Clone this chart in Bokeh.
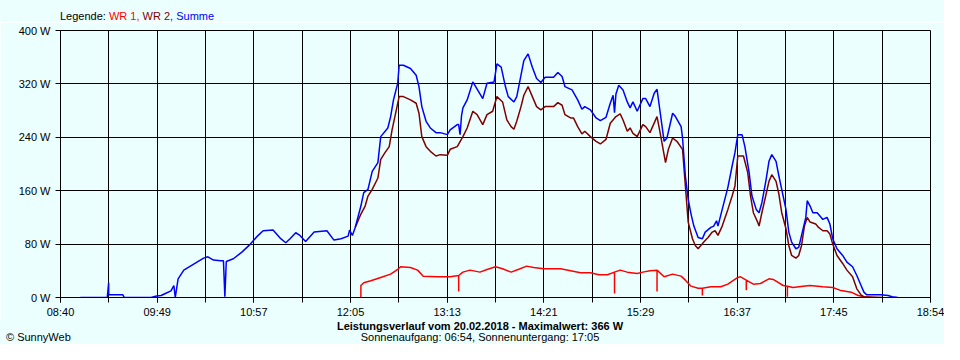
import numpy as np
from bokeh.plotting import figure
from bokeh.layouts import column
from bokeh.models import FixedTicker, Range1d, Div
from bokeh.embed import file_html
from bokeh.resources import INLINE

# ---------------- data ----------------
x_tick_labels = ["08:40", "09:49", "10:57", "12:05", "13:13",
                 "14:21", "15:29", "16:37", "17:45", "18:54"]
y_ticks = [0, 80, 160, 240, 320, 400]
y_tick_labels = ["0 W", "80 W", "160 W", "240 W", "320 W", "400 W"]

legend_parts = ["Legende:", "WR 1,", "WR 2,", "Summe"]
title_text = "Leistungsverlauf vom 20.02.2018 - Maximalwert: 366 W"
sun_text = "Sonnenaufgang: 06:54, Sonnenuntergang: 17:05"
copyright_text = "\u00a9 SunnyWeb"

sum_time = ["08:54", "09:13", "09:14", "09:14", "09:17", "09:24", "09:25", "09:44", "09:47", "09:51",
            "09:54", "09:58", "10:00", "10:01", "10:03", "10:07", "10:14", "10:21", "10:24", "10:28",
            "10:33", "10:35", "10:36", "10:37", "10:42", "10:48", "10:54", "10:59", "11:03", "11:10",
            "11:15", "11:19", "11:22", "11:26", "11:29", "11:33", "11:39", "11:48", "11:53", "11:58",
            "12:03", "12:04", "12:06", "12:08", "12:12", "12:14", "12:17", "12:20", "12:24", "12:26",
            "12:31", "12:33", "12:35", "12:38", "12:39", "12:42", "12:47", "12:51", "12:53", "12:55",
            "12:58", "13:01", "13:05", "13:08", "13:13", "13:15", "13:20", "13:21", "13:22", "13:23",
            "13:24", "13:27", "13:31", "13:33", "13:38", "13:41", "13:46", "13:48", "13:51", "13:54",
            "13:56", "14:00", "14:02", "14:05", "14:07", "14:10", "14:13", "14:16", "14:19", "14:22",
            "14:28", "14:31", "14:34", "14:36", "14:41", "14:45", "14:48", "14:50", "14:54", "14:58",
            "15:01", "15:05", "15:08", "15:10", "15:11", "15:12", "15:14", "15:17", "15:20", "15:22",
            "15:24", "15:27", "15:31", "15:33", "15:36", "15:39", "15:41", "15:46", "15:48", "15:52",
            "15:54", "15:58", "15:59", "16:01", "16:03", "16:05", "16:07", "16:10", "16:13", "16:15",
            "16:19", "16:21", "16:23", "16:24", "16:27", "16:31", "16:34", "16:36", "16:38", "16:41",
            "16:43", "16:46", "16:48", "16:51", "16:53", "16:55", "16:58", "17:00", "17:02", "17:05",
            "17:07", "17:09", "17:12", "17:14", "17:16", "17:19", "17:21", "17:23", "17:26", "17:27",
            "17:29", "17:31", "17:34", "17:36", "17:38", "17:41", "17:43", "17:45", "17:48", "17:52",
            "17:55", "17:59", "18:02", "18:05", "18:07", "18:09", "18:19", "18:24", "18:27", "18:31"]
sum_watt = [0, 0, 22, 4, 4, 4, 0, 0, 2, 3,
            6, 10, 18, 0, 28, 41, 50, 59, 61, 56,
            55, 55, 1, 54, 58, 68, 80, 92, 100, 101,
            89, 82, 88, 97, 93, 84, 98, 100, 86, 88,
            92, 101, 93, 105, 137, 157, 162, 189, 202, 241,
            254, 271, 296, 321, 348, 348, 343, 333, 316, 286,
            264, 254, 247, 247, 244, 251, 259, 259, 244, 272,
            284, 296, 323, 316, 298, 321, 323, 350, 345, 316,
            301, 293, 301, 333, 355, 365, 345, 328, 322, 330,
            330, 337, 331, 316, 311, 296, 282, 286, 281, 269,
            265, 270, 291, 303, 277, 305, 318, 311, 293, 284,
            293, 279, 298, 298, 286, 306, 312, 234, 239, 276,
            271, 256, 239, 182, 147, 125, 107, 90, 88, 98,
            105, 107, 115, 107, 132, 165, 197, 217, 244, 244,
            226, 187, 152, 132, 127, 142, 177, 204, 214, 204,
            182, 162, 132, 98, 83, 73, 75, 93, 120, 145,
            137, 127, 127, 122, 117, 120, 110, 88, 73, 63,
            53, 46, 33, 18, 8, 4, 4, 3, 1, 0]

wr2_time = ["12:08", "12:12", "12:15", "12:17", "12:20", "12:24", "12:26", "12:29", "12:32", "12:34",
            "12:36", "12:39", "12:42", "12:47", "12:51", "12:53", "12:55", "12:58", "13:01", "13:05",
            "13:08", "13:13", "13:15", "13:20", "13:24", "13:27", "13:31", "13:34", "13:38", "13:41",
            "13:45", "13:48", "13:52", "13:55", "13:58", "14:00", "14:02", "14:05", "14:07", "14:10",
            "14:13", "14:16", "14:19", "14:22", "14:28", "14:31", "14:34", "14:36", "14:40", "14:42",
            "14:45", "14:48", "14:50", "14:54", "14:58", "15:01", "15:05", "15:08", "15:12", "15:15",
            "15:17", "15:20", "15:22", "15:24", "15:27", "15:31", "15:33", "15:36", "15:41", "15:43",
            "15:47", "15:49", "15:52", "15:55", "15:59", "16:01", "16:03", "16:06", "16:08", "16:10",
            "16:14", "16:17", "16:20", "16:22", "16:24", "16:27", "16:31", "16:34", "16:36", "16:38",
            "16:42", "16:45", "16:47", "16:49", "16:52", "16:53", "16:55", "16:58", "17:00", "17:02",
            "17:05", "17:07", "17:09", "17:12", "17:14", "17:16", "17:19", "17:21", "17:23", "17:25",
            "17:27", "17:29", "17:33", "17:35", "17:38", "17:41", "17:43", "17:45", "17:48", "17:52",
            "17:55", "17:59", "18:02", "18:05", "18:07", "18:20"]
wr2_watt = [105, 125, 137, 152, 162, 179, 207, 217, 226, 251,
            271, 301, 301, 296, 291, 276, 241, 226, 219, 212,
            214, 213, 222, 226, 241, 254, 279, 274, 259, 274,
            279, 301, 293, 266, 256, 252, 264, 286, 303, 316,
            301, 286, 281, 286, 286, 292, 288, 274, 269, 269,
            256, 245, 249, 241, 234, 230, 237, 261, 271, 275,
            266, 249, 254, 246, 241, 259, 256, 247, 271, 249,
            202, 222, 239, 234, 222, 167, 113, 88, 78, 73,
            83, 90, 98, 100, 93, 107, 132, 152, 167, 212,
            212, 187, 152, 127, 113, 107, 127, 155, 174, 184,
            174, 155, 127, 103, 78, 63, 59, 63, 78, 107,
            120, 113, 110, 105, 100, 100, 95, 80, 63, 51,
            41, 31, 13, 4, 1, 0]

wr1_time = ["12:12", "12:12", "12:14", "12:19", "12:26", "12:33", "12:38", "12:40", "12:47", "12:52",
            "12:56", "13:06", "13:15", "13:21", "13:21", "13:21", "13:24", "13:29", "13:36", "13:41",
            "13:47", "13:52", "13:58", "14:03", "14:09", "14:14", "14:21", "14:33", "14:40", "14:47",
            "14:54", "15:00", "15:06", "15:11", "15:11", "15:11", "15:15", "15:20", "15:27", "15:31",
            "15:36", "15:41", "15:41", "15:41", "15:46", "15:52", "15:58", "16:01", "16:05", "16:10",
            "16:13", "16:13", "16:13", "16:19", "16:26", "16:31", "16:38", "16:40", "16:44", "16:44",
            "16:44", "16:49", "16:54", "17:00", "17:03", "17:10", "17:13", "17:13", "17:13", "17:17",
            "17:24", "17:29", "17:38", "17:45", "17:50", "17:58", "18:03", "18:07", "18:12"]
wr1_watt = [0, 18, 22, 25, 30, 35, 42, 46, 45, 41,
            32, 31, 31, 33, 9, 33, 38, 41, 38, 42,
            46, 43, 38, 42, 47, 45, 43, 43, 40, 37,
            37, 34, 34, 38, 6, 38, 41, 38, 36, 38,
            40, 41, 9, 41, 31, 35, 32, 26, 17, 14,
            14, 3, 14, 16, 16, 20, 30, 31, 26, 11,
            26, 20, 21, 28, 27, 18, 17, 1, 17, 15,
            17, 18, 16, 15, 11, 8, 3, 1, 0]


def to_min(s):
    h, m = s.split(":")
    return int(h) * 60 + int(m)


BG = "#EBFFFF"
FONT = "'Liberation Sans', Arial, sans-serif"
W = 944
TOP_H = 22
FIG_H = 298
BOT_H = 344 - TOP_H - FIG_H

x_start = to_min(x_tick_labels[0])
x_end = to_min(x_tick_labels[-1])
major = list(np.linspace(x_start, x_end, len(x_tick_labels)))
minor = list(np.linspace(x_start, x_end, 2 * len(x_tick_labels) - 1))

p = figure(width=W, height=FIG_H, output_backend="svg", toolbar_location=None,
           x_range=Range1d(x_start, x_end), y_range=Range1d(y_ticks[0], y_ticks[-1]),
           min_border_left=60, min_border_right=14, min_border_top=8,
           min_border_bottom=FIG_H - 8 - 269,
           background_fill_color=BG, border_fill_color=BG)
p.outline_line_color = "black"
p.outline_line_width = 1

# axes
p.xaxis.ticker = FixedTicker(ticks=major, minor_ticks=minor)
p.xaxis.major_label_overrides = {float(t): lab for t, lab in zip(major, x_tick_labels)}
p.yaxis.ticker = FixedTicker(ticks=y_ticks)
p.yaxis.major_label_overrides = {t: lab for t, lab in zip(y_ticks, y_tick_labels)}
for ax in (p.xaxis, p.yaxis):
    ax.axis_line_color = "black"
    ax.axis_line_width = 1
    ax.major_tick_line_color = "black"
    ax.major_tick_in = 0
    ax.major_tick_out = 5
    ax.major_label_text_font = "Liberation Sans"
    ax.major_label_text_font_size = "11px"
    ax.major_label_text_color = "black"
p.xaxis.minor_tick_line_color = "black"
p.xaxis.minor_tick_in = 0
p.xaxis.minor_tick_out = 5
p.xaxis.major_label_standoff = 3
p.yaxis.minor_tick_line_color = None
p.yaxis.major_label_standoff = 5

p.xgrid.grid_line_color = "black"
p.xgrid.minor_grid_line_color = "black"
p.ygrid.grid_line_color = "black"
p.xgrid.grid_line_width = 1
p.ygrid.grid_line_width = 1

# series
p.line([to_min(t) for t in wr1_time], wr1_watt, line_color="#FF0000", line_width=1.5)
p.line([to_min(t) for t in wr2_time], wr2_watt, line_color="#800000", line_width=1.5)
p.line([to_min(t) for t in sum_time], sum_watt, line_color="#0000FF", line_width=1.5)

# legend text at top
leg_colors = ["black", "#FF0000", "#800000", "#0000FF"]
spans = " ".join(f'<span style="color:{c}">{t}</span>' for t, c in zip(legend_parts, leg_colors))
top_html = (f'<div style="width:{W}px;height:{TOP_H}px;overflow:hidden;background:{BG};'
            f'font-family:{FONT};font-size:11px;line-height:13px;white-space:nowrap;">'
            f'<div style="padding-left:60px;padding-top:10px;">{spans}</div></div>')
top = Div(text=top_html, width=W, height=TOP_H, margin=0)

bot_html = (f'<div style="width:{W}px;height:{BOT_H}px;overflow:hidden;background:{BG};'
            f'font-family:{FONT};font-size:11px;white-space:nowrap;position:relative;">'
            f'<div style="position:absolute;left:16px;width:928px;top:0px;text-align:center;'
            f'font-weight:bold;line-height:12px;">{title_text}</div>'
            f'<div style="position:absolute;left:16px;width:928px;top:11px;text-align:center;'
            f'line-height:12px;">{sun_text}</div>'
            f'<div style="position:absolute;left:6px;top:11px;line-height:12px;">{copyright_text}</div>'
            f'</div>')
bottom = Div(text=bot_html, width=W, height=BOT_H, margin=0)

layout = column(top, p, bottom, spacing=0)

open("out.html", "w").write(file_html(layout, INLINE))
